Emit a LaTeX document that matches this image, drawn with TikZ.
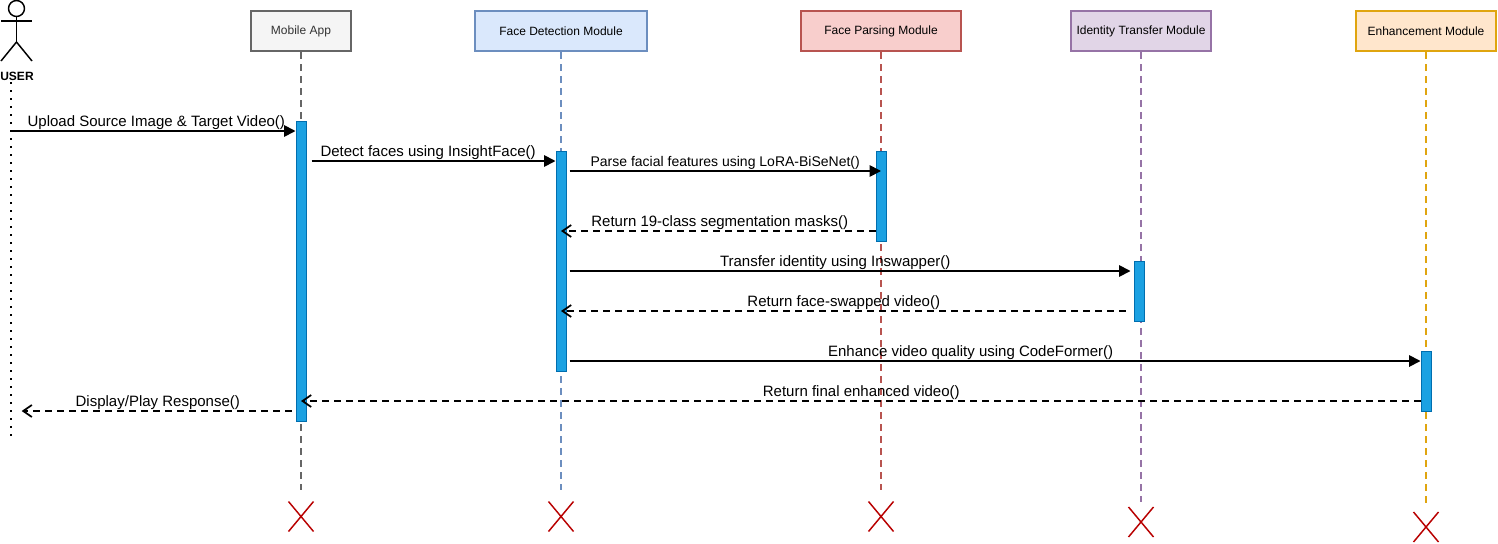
\documentclass[tikz,border=0pt]{standalone}
\usepackage{fontspec}
\setmainfont{Liberation Sans}
\usepackage{tikz}
\usetikzlibrary{arrows.meta, shapes.misc, backgrounds}
\definecolor{barfill}{HTML}{1BA1E2}
\definecolor{barline}{HTML}{006EAF}
\definecolor{crossred}{HTML}{B80000}
\definecolor{appfill}{HTML}{F5F5F5}
\definecolor{appline}{HTML}{666666}
\definecolor{detectfill}{HTML}{DAE8FC}
\definecolor{detectline}{HTML}{6C8EBF}
\definecolor{parsefill}{HTML}{F8CECC}
\definecolor{parseline}{HTML}{B85450}
\definecolor{transferfill}{HTML}{E1D5E7}
\definecolor{transferline}{HTML}{9673A6}
\definecolor{enhancefill}{HTML}{FFE6CC}
\definecolor{enhanceline}{HTML}{E0A50F}

\begin{document}
\begin{tikzpicture}[
  x=0.75pt, y=-0.75pt,
  font         = \fontsize{9}{11}\selectfont,
  module/.style = {draw, line width=1.5pt, minimum height=30pt, inner sep=0pt},
  life/.style   = {line width=1.1pt, dash pattern=on 5.25pt off 3.75pt},
  bar/.style    = {draw=barline, fill=barfill, line width=0.75pt, minimum width=7.5pt, inner sep=0pt},
  endx/.style   = {cross out, draw=crossred, line width=1.1pt, minimum width=18.75pt,
                   minimum height=22.5pt, inner sep=0pt, outer sep=0pt},
  call/.style   = {-{Triangle[length=8.5pt, width=8.5pt]}, line width=1.3pt, black},
  back/.style   = {-{Straight Barb[length=6.5pt, width=9pt, line width=1.3pt]}, line width=1.3pt,
                   black, dash pattern=on 5.25pt off 3.75pt},
  msg/.style    = {above, font=\fontsize{11.25}{13}\selectfont, inner sep=0pt, yshift=0.7pt},
]
\useasboundingbox (0,0) rectangle (1498,543);

% Actor
\node[draw, circle, line width=1.1pt, minimum size=12pt, inner sep=0pt] (userHead) at (16.5,8.5) {};
\coordinate (userHip) at (16.5,42);
\draw[line width=1.1pt] (userHead.south) -- (userHip);
\draw[line width=1.1pt] (1,21) -- (32,21);
\draw[line width=1.1pt] (1,61) -- (userHip) -- (32,61);
\node[font=\fontsize{9}{11}\selectfont\bfseries] (user) at (17,76) {USER};
\coordinate (userTop) at (11,82);
\coordinate (userEnd) at (11,437);

% Modules.  Column centres: 301, 561, 881, 1141, 1426
\node[module, fill=appfill, draw=appline, text=black!80, minimum width=75pt] (app) at (301,31) {Mobile App};
\node[module, fill=detectfill, draw=detectline, minimum width=129pt] (detect) at (561,31) {Face Detection Module};
\node[module, fill=parsefill, draw=parseline, minimum width=120pt] (parse) at (881,31) {Face Parsing Module};
\node[module, fill=transferfill, draw=transferline, minimum width=105pt] (transfer) at (1141,31) {Identity Transfer Module};
\node[module, fill=enhancefill, draw=enhanceline, minimum width=105pt] (enhance) at (1426,31) {Enhancement Module};

% Activation bars
\node[bar, minimum height=225pt] (appBar) at (301,271) {};
\node[bar, minimum height=165pt] (detectBar) at (561,261) {};
\node[bar, minimum height=67.5pt] (parseBar) at (881,196) {};
\node[bar, minimum height=45pt] (transferBar) at (1139,291) {};
\node[bar, minimum height=45pt] (enhanceBar) at (1426,381) {};

% End marks
\node[endx] (appX) at (301,516.5) {};
\node[endx] (detectX) at (561,516.5) {};
\node[endx] (parseX) at (881,516.5) {};
\node[endx] (transferX) at (1141,522) {};
\node[endx] (enhanceX) at (1426,527) {};

% Lifelines
\begin{scope}[on background layer]
  \draw[line width=1.5pt, dash pattern=on 1.5pt off 4.5pt] (userTop) -- (userEnd);
  \draw[life, appline, shorten >=9pt] (app) -- (appX);
  \draw[life, detectline, shorten >=9pt] (detect) -- (detectX);
  \draw[life, parseline, shorten >=9pt] (parse) -- (parseX);
  \draw[life, transferline, shorten >=4pt] (transfer) -- (transferX);
  \draw[life, enhanceline, shorten >=7pt] (enhance) -- (enhanceX);
\end{scope}

% Messages
\draw[call] (userTop |- 0,131) -- (appBar.west |- 0,131)
  node[msg, midway, xshift=2.3pt] {Upload Source Image \& Target Video()};
\draw[call, shorten <=3.75pt] (appBar.east |- 0,161) -- (detectBar.west |- 0,161)
  node[msg, midway, xshift=-2.2pt] {Detect faces using InsightFace()};
\draw[call, shorten <=2.25pt] (detectBar.east |- 0,171) -- (parseBar |- 0,171)
  node[msg, midway, xshift=1.1pt, font=\fontsize{10.5}{12}\selectfont] {Parse facial features using LoRA-BiSeNet()};
\draw[back] (parseBar.west |- 0,231) -- (detectBar |- 0,231)
  node[msg, midway, xshift=1.1pt] {Return 19-class segmentation masks()};
\draw[call, shorten <=2.25pt, shorten >=2.25pt] (detectBar.east |- 0,271) -- (transferBar.west |- 0,271)
  node[msg, midway, xshift=-11.1pt] {Transfer identity using Inswapper()};
\draw[back, shorten <=6pt] (transferBar.west |- 0,311) -- (detectBar |- 0,311)
  node[msg, midway, xshift=-2.6pt] {Return face-swapped video()};
\draw[call, shorten <=2.25pt] (detectBar.east |- 0,361) -- (enhanceBar.west |- 0,361)
  node[msg, midway, xshift=-17.1pt] {Enhance video quality using CodeFormer()};
\draw[back] (enhanceBar.west |- 0,401) -- (appBar |- 0,401)
  node[msg, midway, xshift=0.4pt] {Return final enhanced video()};
\draw[back, shorten <=3pt, shorten >=8pt] (appBar.west |- 0,411) -- (userTop |- 0,411)
  node[msg, midway, xshift=3.4pt] {Display/Play Response()};

\end{tikzpicture}
\end{document}
